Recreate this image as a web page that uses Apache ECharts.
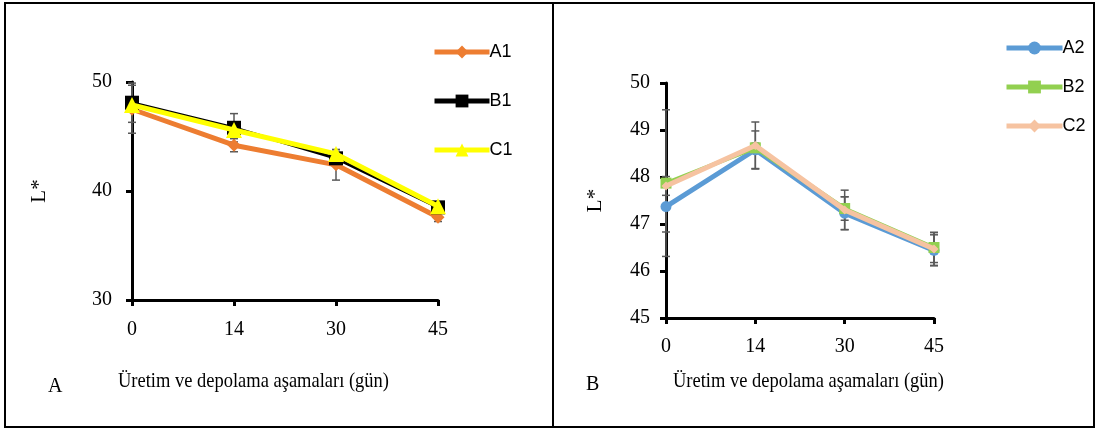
<!DOCTYPE html>
<html>
<head>
<meta charset="utf-8">
<script src="https://cdn.jsdelivr.net/npm/echarts@6/dist/echarts.min.js"></script>
<style>
  html, body { margin: 0; padding: 0; background: #fff; }
  #chart { width: 1098px; height: 430px; }
</style>
</head>
<body>
<div id="chart"></div>
<script>
// Storage days (x categories)
const days = ['0', '14', '30', '45'];

// Panel A: L* values and their error margins
const A1 = [47.5, 44.2, 42.4, 37.6];
const B1 = [48.1, 45.8, 43.0, 38.5];
const C1 = [47.9, 45.6, 43.4, 38.6];
const A1err = [2.2, 0.6, 1.4, 0.4];
const B1err = [1.8, 1.3, 0.5, 0.3];
const C1err = [0.5, 0.4, 0.4, 0.3];

// Panel B: L* values and their error margins
const A2 = [47.37, 48.58, 47.23, 46.44];
const B2 = [47.87, 48.62, 47.33, 46.50];
const C2 = [47.81, 48.67, 47.30, 46.47];
const A2err = [0.54, 0.40, 0.35, 0.33];
const B2err = [1.56, 0.10, 0.25, 0.32];
const C2err = [0.20, 0.50, 0.42, 0.35];

// Axis tick ranges
const leftY = { min: 30, max: 50, interval: 10 };
const rightY = { min: 45, max: 50, interval: 1 };

const xTitle = 'Üretim ve depolama aşamaları (gün)';
const serif = 'Liberation Serif';
const sans = 'Liberation Sans';

function errorSeries(values, errs, axisIdx, z) {
  return {
    type: 'custom',
    xAxisIndex: axisIdx,
    yAxisIndex: axisIdx,
    z: z,
    silent: true,
    data: values.map((v, i) => [i, v - errs[i], v + errs[i]]),
    renderItem: function (params, api) {
      const lo = api.coord([api.value(0), api.value(1)]);
      const hi = api.coord([api.value(0), api.value(2)]);
      const w = 4;
      const st = { stroke: '#595959', lineWidth: 1.5 };
      return {
        type: 'group',
        children: [
          { type: 'line', shape: { x1: lo[0], y1: lo[1], x2: hi[0], y2: hi[1] }, style: st },
          { type: 'line', shape: { x1: lo[0] - w, y1: lo[1], x2: lo[0] + w, y2: lo[1] }, style: st },
          { type: 'line', shape: { x1: hi[0] - w, y1: hi[1], x2: hi[0] + w, y2: hi[1] }, style: st }
        ]
      };
    }
  };
}

function lineSeries(name, values, color, width, symbol, size, axisIdx, z) {
  return {
    name: name,
    type: 'line',
    xAxisIndex: axisIdx,
    yAxisIndex: axisIdx,
    data: values,
    z: z,
    symbol: symbol,
    symbolSize: size,
    showAllSymbol: true,
    lineStyle: { color: color, width: width },
    itemStyle: { color: color },
    emphasis: { disabled: true },
    animation: false
  };
}

function legendItem(name, color) {
  return { name: name, lineStyle: { color: color, width: 5 }, itemStyle: { color: color } };
}

const axisLine = { show: true, lineStyle: { color: '#000', width: 3 } };
const axisTick = { show: true, length: 6, lineStyle: { color: '#000', width: 3 } };
const tickFont = { color: '#000', fontFamily: serif, fontSize: 20 };

const chart = echarts.init(document.getElementById('chart'), null, { renderer: 'canvas' });

chart.setOption({
  animation: false,
  backgroundColor: '#fff',
  grid: [
    { left: 132, top: 82, width: 306, height: 218 },
    { left: 666, top: 83, width: 268, height: 235 }
  ],
  xAxis: [
    {
      gridIndex: 0, type: 'category', data: days, boundaryGap: false,
      axisLine: axisLine, axisTick: { ...axisTick, alignWithLabel: true },
      axisLabel: { ...tickFont, margin: 20 },
      splitLine: { show: false }
    },
    {
      gridIndex: 1, type: 'category', data: days, boundaryGap: false,
      axisLine: axisLine, axisTick: { ...axisTick, alignWithLabel: true },
      axisLabel: { ...tickFont, margin: 19 },
      splitLine: { show: false }
    }
  ],
  yAxis: [
    {
      gridIndex: 0, type: 'value', min: leftY.min, max: leftY.max, interval: leftY.interval,
      name: 'L*', nameLocation: 'middle', nameGap: 82, nameRotate: 90,
      nameTextStyle: { color: '#000', fontFamily: serif, fontSize: 21 },
      axisLine: axisLine, axisTick: axisTick,
      axisLabel: { ...tickFont, margin: 20 },
      splitLine: { show: false }
    },
    {
      gridIndex: 1, type: 'value', min: rightY.min, max: rightY.max, interval: rightY.interval,
      name: 'L*', nameLocation: 'middle', nameGap: 60, nameRotate: 90,
      nameTextStyle: { color: '#000', fontFamily: serif, fontSize: 21 },
      axisLine: axisLine, axisTick: axisTick,
      axisLabel: { ...tickFont, margin: 16 },
      splitLine: { show: false }
    }
  ],
  legend: [
    {
      data: [legendItem('A1', '#ED7D31'), legendItem('B1', '#000000'), legendItem('C1', '#FFFF00')],
      orient: 'vertical', left: 427, top: 38, itemGap: 31,
      itemWidth: 55, itemHeight: 16,
      textStyle: { color: '#000', fontFamily: sans, fontSize: 18, padding: [0, 0, 0, -5] },
      selectedMode: false
    },
    {
      data: [legendItem('A2', '#5B9BD5'), legendItem('B2', '#92D050'), legendItem('C2', '#F6C3A1')],
      orient: 'vertical', left: 999, top: 34, itemGap: 21,
      itemWidth: 56, itemHeight: 16,
      textStyle: { color: '#000', fontFamily: sans, fontSize: 18, padding: [0, 0, 0, -5] },
      selectedMode: false
    }
  ],
  graphic: [
    { type: 'rect', shape: { x: 5, y: 3, width: 1089, height: 424 }, style: { fill: 'none', stroke: '#000', lineWidth: 2 }, silent: true },
    { type: 'line', shape: { x1: 553, y1: 3, x2: 553, y2: 427 }, style: { stroke: '#000', lineWidth: 2 }, silent: true },
    { type: 'text', x: 48, y: 377, style: { text: 'A', fill: '#000', font: '20px "Liberation Serif"' } },
    { type: 'text', x: 118, y: 371, scaleX: 0.88, style: { text: xTitle, fill: '#000', font: '21px "Liberation Serif"' } },
    { type: 'text', x: 586, y: 375, style: { text: 'B', fill: '#000', font: '20px "Liberation Serif"' } },
    { type: 'text', x: 673, y: 371, scaleX: 0.88, style: { text: xTitle, fill: '#000', font: '21px "Liberation Serif"' } }
  ],
  series: [
    errorSeries(A1, A1err, 0, 1),
    errorSeries(B1, B1err, 0, 1),
    errorSeries(C1, C1err, 0, 1),
    lineSeries('A1', A1, '#ED7D31', 5, 'diamond', 13, 0, 2),
    lineSeries('B1', B1, '#000000', 3, 'rect', 14, 0, 3),
    lineSeries('C1', C1, '#FFFF00', 5, 'triangle', 16, 0, 4),
    errorSeries(A2, A2err, 1, 1),
    errorSeries(B2, B2err, 1, 1),
    errorSeries(C2, C2err, 1, 1),
    lineSeries('A2', A2, '#5B9BD5', 5, 'circle', 11, 1, 2),
    lineSeries('B2', B2, '#92D050', 4, 'rect', 11, 1, 3),
    lineSeries('C2', C2, '#F6C3A1', 5, 'diamond', 9, 1, 4)
  ]
});
</script>
</body>
</html>
